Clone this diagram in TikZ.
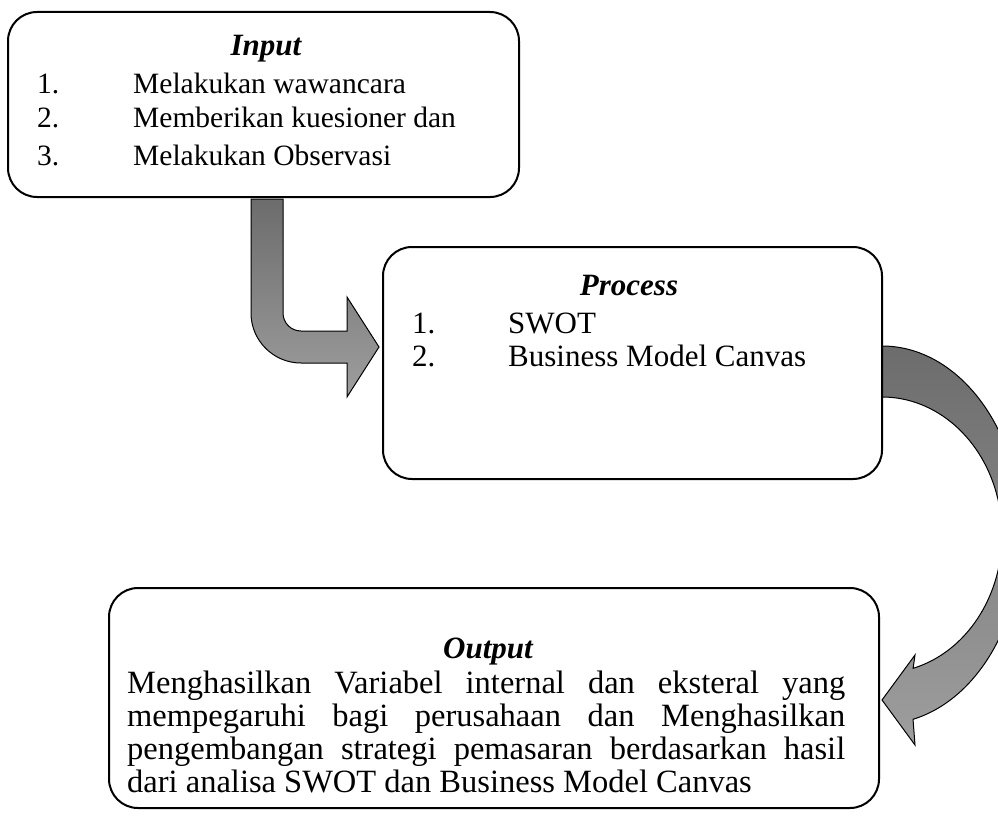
\documentclass[tikz,border=0pt]{standalone}
\usepackage{fontspec}
\setmainfont{Liberation Serif}
\definecolor{arrtop}{RGB}{108,108,108}
\definecolor{arrbot}{RGB}{158,158,158}
\tikzset{
  box/.style={draw=black, line width=2pt, rounded corners=29pt, fill=white, inner sep=0pt},
  blockarrow/.style={draw=black, line width=1pt, top color=arrtop, bottom color=arrbot},
  txt/.style={inner sep=0pt, anchor=base west, font=\fontsize{29.5}{34}\selectfont},
  ptxt/.style={inner sep=0pt, anchor=base west, font=\fontsize{31}{34}\selectfont},
  head/.style={inner sep=0pt, anchor=base, font=\fontsize{31}{34}\selectfont\bfseries\itshape},
}
\begin{document}
\begin{tikzpicture}[x=1pt,y=1pt]
\useasboundingbox[fill=white] (0,0) rectangle (998,-816);
\begin{scope}
\clip (0,0) rectangle (998,-816);
% bent arrow from Input to Process
\path[blockarrow] (251,-199) -- (251,-313) arc[start angle=180, end angle=270, radius=50pt]
  -- (347,-363) -- (347,-397) -- (379,-347) -- (347,-297) -- (347,-331) -- (301,-331)
  arc[start angle=270, end angle=180, radius=18pt] -- (283,-199) -- cycle;
% curved arrow from Process to Output
\path[blockarrow] (882,-346) arc[start angle=90, end angle=-77.2, x radius=140pt, y radius=189pt]
  -- (915,-745) -- (882,-700) -- (915,-655) -- (913.1,-668.3)
  arc[start angle=-75, end angle=90, x radius=120pt, y radius=138pt] -- cycle;
\end{scope}
% boxes
\node[box, minimum width=511pt, minimum height=185pt] (in) at (263.5,-104.5) {};
\node[box, minimum width=499pt, minimum height=232pt] (pr) at (632.5,-363) {};
\node[box, minimum width=770pt, minimum height=220pt] (out) at (494,-698) {};
% Input text
\node[head] (inh) at (266,-56) {Input};
\node[txt] (in1n) at (37,-93) {1.};
\node[txt] (in1) at (133,-93) {Melakukan wawancara};
\node[txt] (in2n) at (37,-127) {2.};
\node[txt] (in2) at (133,-127) {Memberikan kuesioner dan};
\node[txt] (in3n) at (37,-165) {3.};
\node[txt] (in3) at (133,-165) {Melakukan Observasi};
% Process text
\node[head] (prh) at (629,-295) {Process};
\node[ptxt] (pr1n) at (412,-333) {1.};
\node[ptxt] (pr1) at (508,-333) {SWOT};
\node[ptxt] (pr2n) at (412,-366) {2.};
\node[ptxt] (pr2) at (508,-366) {Business Model Canvas};
% Output text
\node[head] (outh) at (488,-658) {Output};
\node[inner sep=0pt, anchor=north west, text width=718pt, align=justify,
  font=\fontsize{32.5}{33}\selectfont] (outt) at (127,-671)
  {Menghasilkan Variabel internal dan eksteral yang\linebreak
   mempegaruhi bagi perusahaan dan Menghasilkan\linebreak
   pengembangan strategi pemasaran berdasarkan hasil\linebreak
   dari analisa SWOT dan Business Model Canvas};
\end{tikzpicture}
\end{document}
